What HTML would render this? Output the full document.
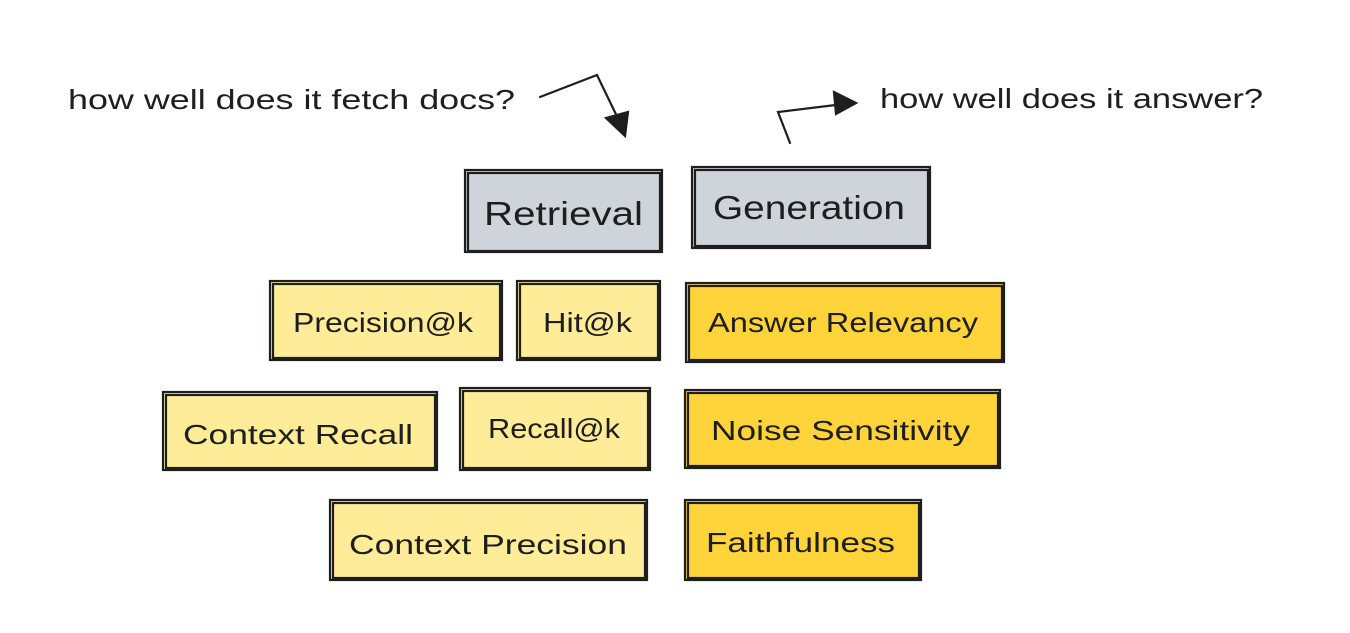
<!DOCTYPE html>
<html><head><meta charset="utf-8"><style>
html,body{margin:0;padding:0;background:#fff;}
svg text{font-family:"Liberation Sans",sans-serif;fill:#1e1e1e;}
</style></head><body>
<svg width="1350" height="628" viewBox="0 0 1350 628" xmlns="http://www.w3.org/2000/svg">
<g stroke="#1e1e1e" stroke-width="2.2" fill="none" stroke-linecap="round">
<rect x="465" y="170" width="197" height="82" fill="#ced4da"/>
<rect x="468" y="173" width="192" height="78" />
<rect x="692" y="167" width="238" height="81" fill="#ced4da"/>
<rect x="695" y="170" width="233" height="76"/>
<rect x="270" y="281" width="232" height="79" fill="#ffec99"/>
<rect x="273" y="284" width="227" height="74"/>
<rect x="517" y="281" width="143" height="79" fill="#ffec99"/>
<rect x="520" y="284" width="138" height="74"/>
<rect x="686" y="283" width="318" height="79" fill="#ffd43b"/>
<rect x="689" y="286" width="313" height="74"/>
<rect x="163" y="392" width="274" height="78" fill="#ffec99"/>
<rect x="166" y="395" width="269" height="73"/>
<rect x="460" y="388" width="190" height="82" fill="#ffec99"/>
<rect x="463" y="391" width="185" height="77"/>
<rect x="685" y="390" width="315" height="78" fill="#ffd43b"/>
<rect x="688" y="393" width="310" height="73"/>
<rect x="330" y="500" width="317" height="80" fill="#ffec99"/>
<rect x="333" y="503" width="312" height="75"/>
<rect x="685" y="500" width="236" height="80" fill="#ffd43b"/>
<rect x="688" y="503" width="231" height="75"/>
<polyline points="540,97 597,75 625,133"/>
<polygon points="625,136 606,118 628,112" fill="#1e1e1e"/>
<polyline points="790,143 778,112 852,103"/>
<polygon points="856,103 834,92 836,114" fill="#1e1e1e"/>
</g>
<g font-size="28">
<text x="68" y="109" textLength="447" lengthAdjust="spacingAndGlyphs">how well does it fetch docs?</text>
<text x="880" y="108" textLength="383" lengthAdjust="spacingAndGlyphs">how well does it answer?</text>
</g>
<g font-size="33">
<text x="484" y="225" textLength="159" lengthAdjust="spacingAndGlyphs">Retrieval</text>
<text x="713" y="219" textLength="192" lengthAdjust="spacingAndGlyphs">Generation</text>
</g>
<g font-size="28">
<text x="293" y="332" textLength="180" lengthAdjust="spacingAndGlyphs">Precision@k</text>
<text x="543" y="332" textLength="89" lengthAdjust="spacingAndGlyphs">Hit@k</text>
<text x="708" y="332" textLength="270" lengthAdjust="spacingAndGlyphs">Answer Relevancy</text>
<text x="183" y="444" textLength="230" lengthAdjust="spacingAndGlyphs">Context Recall</text>
<text x="488" y="438" textLength="132" lengthAdjust="spacingAndGlyphs">Recall@k</text>
<text x="711" y="440" textLength="259" lengthAdjust="spacingAndGlyphs">Noise Sensitivity</text>
<text x="349" y="554" textLength="278" lengthAdjust="spacingAndGlyphs">Context Precision</text>
<text x="706" y="552" textLength="189" lengthAdjust="spacingAndGlyphs">Faithfulness</text>
</g>
</svg>
</body></html>
